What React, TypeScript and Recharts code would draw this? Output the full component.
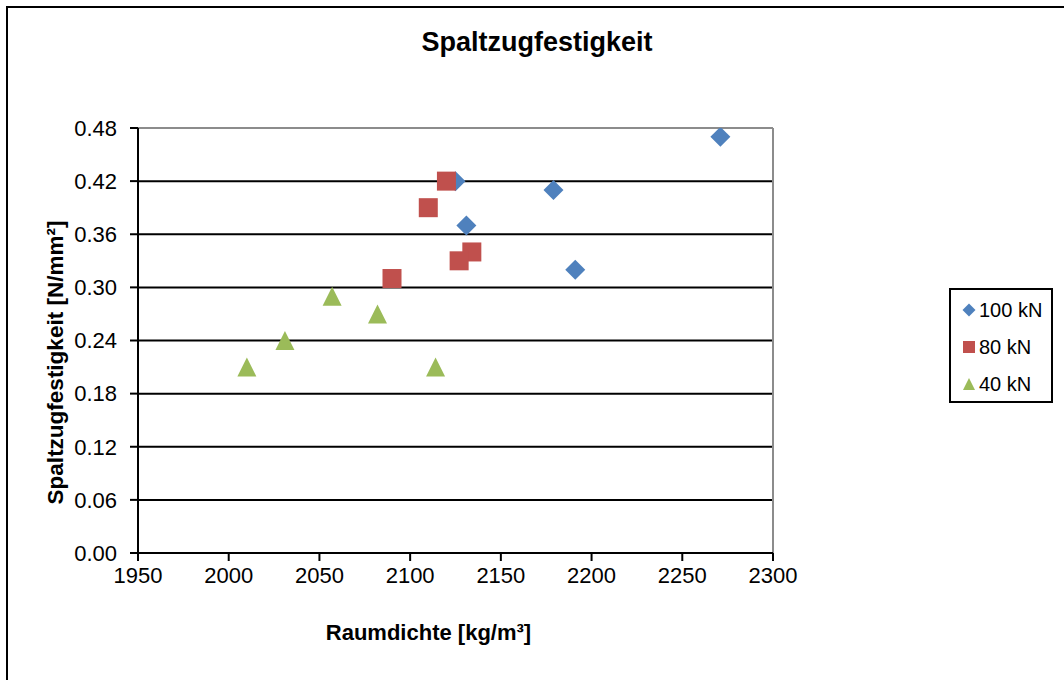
import { ScatterChart, Scatter, XAxis, YAxis, CartesianGrid, ReferenceLine } from "recharts";

// Raumdichte [kg/m³] vs. Spaltzugfestigkeit [N/mm²]
const density100 = [2125, 2131, 2179, 2191, 2271];
const strength100 = [0.42, 0.37, 0.41, 0.32, 0.47];
const density80 = [2090, 2110, 2120, 2134, 2127];
const strength80 = [0.31, 0.39, 0.42, 0.34, 0.33];
const density40 = [2010, 2031, 2057, 2082, 2114];
const strength40 = [0.21, 0.24, 0.29, 0.27, 0.21];

const xTicks = [1950, 2000, 2050, 2100, 2150, 2200, 2250, 2300];
const yTicks = [0, 0.06, 0.12, 0.18, 0.24, 0.3, 0.36, 0.42, 0.48];

const seriesNames = ["100 kN", "80 kN", "40 kN"];
const colors = ["#4F81BD", "#C0504D", "#9BBB59"];

const toPoints = (xs: number[], ys: number[]) => xs.map((x, i) => ({ x, y: ys[i] }));

const FONT = '"Liberation Sans", Arial, sans-serif';

function Diamond({ cx, cy, r = 10, fill }: any) {
  return <polygon points={`${cx},${cy - r} ${cx + r},${cy} ${cx},${cy + r} ${cx - r},${cy}`} fill={fill} />;
}
function Square({ cx, cy, r = 9.5, fill }: any) {
  return <rect x={cx - r} y={cy - r} width={r * 2} height={r * 2} fill={fill} />;
}
function Triangle({ cx, cy, r = 9.5, fill }: any) {
  return <polygon points={`${cx},${cy - r} ${cx + r},${cy + r} ${cx - r},${cy + r}`} fill={fill} />;
}

const markers = [Diamond, Square, Triangle];

function LegendBox() {
  return (
    <div
      style={{
        position: "absolute",
        left: 949,
        top: 288,
        width: 100,
        height: 111,
        border: "2px solid #000",
        fontFamily: FONT,
        fontSize: 20,
        background: "#fff",
      }}
    >
      {seriesNames.map((name, i) => {
        const M = markers[i];
        return (
          <div key={name} style={{ position: "absolute", left: 10, top: 8 + i * 37, height: 24, display: "flex", alignItems: "center" }}>
            <svg width={16} height={16} style={{ marginRight: 2 }}>
              <M cx={8} cy={8} r={i === 0 ? 6.5 : 6} fill={colors[i]} />
            </svg>
            <span>{name}</span>
          </div>
        );
      })}
    </div>
  );
}

export default function App() {
  const series = [
    toPoints(density100, strength100),
    toPoints(density80, strength80),
    toPoints(density40, strength40),
  ];
  return (
    <div style={{ position: "absolute", left: 0, top: 0, width: 1064, height: 680, overflow: "hidden", background: "#fff" }}>
      <div style={{ position: "absolute", left: 6, top: 6, width: 1100, height: 720, border: "2px solid #000" }} />
      <div
        style={{
          position: "absolute",
          left: 0,
          width: 1074,
          top: 27,
          textAlign: "center",
          fontFamily: FONT,
          fontWeight: "bold",
          fontSize: 27,
        }}
      >
        Spaltzugfestigkeit
      </div>
      <div style={{ position: "absolute", left: 0, top: 0 }}>
        <ScatterChart width={1064} height={680} margin={{ top: 128, right: 291, left: 0, bottom: 0 }}>
          <CartesianGrid horizontal vertical={false} stroke="#000" strokeWidth={2} />
          <XAxis
            type="number"
            dataKey="x"
            domain={[1950, 2300]}
            ticks={xTicks}
            allowDataOverflow
            height={127}
            stroke="#000"
            strokeWidth={2}
            tickSize={8}
            tickMargin={6}
            tick={{ fill: "#000", fontSize: 22, fontFamily: FONT }}
            label={{
              value: "Raumdichte [kg/m³]",
              position: "center",
              dx: -27,
              dy: 16,
              style: { fill: "#000", fontSize: 22, fontWeight: "bold", fontFamily: FONT },
            }}
          />
          <YAxis
            type="number"
            dataKey="y"
            domain={[0, 0.48]}
            ticks={yTicks}
            allowDataOverflow
            width={138}
            stroke="#000"
            strokeWidth={2}
            tickSize={8}
            tickMargin={13}
            tickFormatter={(v: number) => v.toFixed(2)}
            tick={{ fill: "#000", fontSize: 22, fontFamily: FONT }}
            label={{
              value: "Spaltzugfestigkeit [N/mm²]",
              angle: -90,
              position: "center",
              dx: -14,
              dy: 22,
              style: { fill: "#000", fontSize: 22.5, fontWeight: "bold", fontFamily: FONT, textAnchor: "middle" },
            }}
          />
          <ReferenceLine y={0.48} stroke="#8c8c8c" strokeWidth={2} />
          <ReferenceLine x={2300} stroke="#8c8c8c" strokeWidth={2} />
          {series.map((pts, i) => (
            <Scatter
              key={seriesNames[i]}
              name={seriesNames[i]}
              data={pts}
              fill={colors[i]}
              shape={markers[i]}
              isAnimationActive={false}
            />
          ))}
        </ScatterChart>
      </div>
      <LegendBox />
    </div>
  );
}
